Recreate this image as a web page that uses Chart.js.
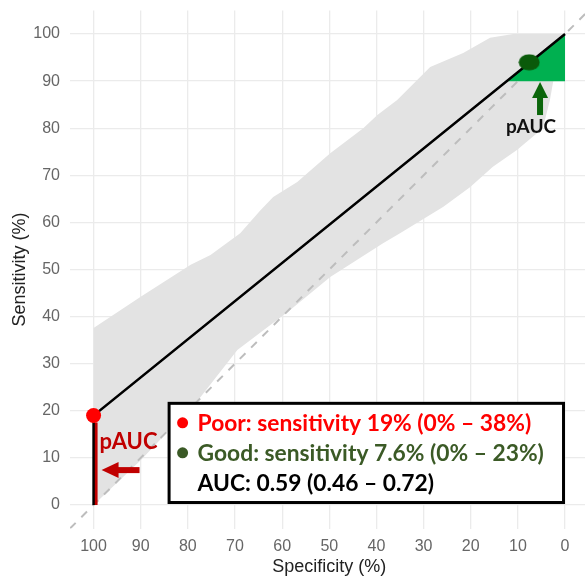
<!DOCTYPE html>
<html><head><meta charset="utf-8">
<script src="https://cdn.jsdelivr.net/npm/chart.js@4"></script>
<style>
html,body{margin:0;padding:0;background:#fff;overflow:hidden;width:585px;height:581px}
#wrap{position:relative;width:590px;height:581px}
</style>
</head><body><div id="wrap"><canvas id="c" width="590" height="581"></canvas></div>
<script>
// ---- data ----
const tickValues = [0,10,20,30,40,50,60,70,80,90,100];
const rocSpec = [100,100,0];
const rocSens = [0,19,100];
const upperSpec = [100,90,79.4,75.2,68.9,64.6,61.9,56.8,49.8,42.8,39.8,35.6,28.6,21.6,15.9,11,0];
const upperSens = [37.6,44.2,51.0,53.1,57.7,62.6,65.4,68.6,74.7,80.0,82.8,86.0,93.0,96.0,99.2,100,100];
const lowerSpec = [100,90,77.3,69.5,58.3,49.8,38.6,35,25.8,20.1,15.3,10.2,4.7,3.2,2.5,0];
const lowerSens = [0,9.5,22.9,32.9,41.4,48.4,55.6,57.7,63.3,67.5,71.8,75.4,80.0,86.0,90,100];
const chanceSpec = [105,-5];
const chanceSens = [-5,105];
const goodPaucSpec = [12.3,0,0];
const goodPaucSens = [90,90,100];
const poorPaucSpec = [100,99.15,99.15,100];
const poorPaucSens = [0,0,17.5,17.5];
const poorPoint = {spec:100, sens:19};
const goodPoint = {spec:7.6, sens:94};
const legendLines = [
  {text:'Poor: sensitivity 19% (0% – 38%)', color:'#ff0000', dot:'#ff0000'},
  {text:'Good: sensitivity 7.6% (0% – 23%)', color:'#3b5a26', dot:'#3b5a26'},
  {text:'AUC: 0.59 (0.46 – 0.72)', color:'#000000', dot:null}
];
const legendBox = {specLeft:84.3, specRight:0, sensTop:21.9, sensBottom:0.2};
const poorArrow = {specFrom:90.25, specTo:98.3, sens:7.4};
const goodArrow = {spec:5.3, sensFrom:82.8, sensTo:89.8};
const poorLabel = {text:'pAUC', spec:92.6, sens:13.4};
const goodLabel = {text:'pAUC', spec:7.2, sens:80.3};

const pts = (xs, ys) => xs.map((x,i)=>({x:x, y:ys[i]}));
const bandPts = pts(upperSpec, upperSens).concat(pts(lowerSpec, lowerSens).reverse());

// ellipse point image for the "good" point
const ell = document.createElement('canvas');
ell.width = 22; ell.height = 17;
(function(){const g=ell.getContext('2d');g.fillStyle='#0a5a0a';g.beginPath();g.ellipse(11,8.5,10.5,8,0,0,Math.PI*2);g.fill();})();

function arrow(ctx, x1, y1, x2, y2, color, shaftW, headLen, headW){
  const ang = Math.atan2(y2-y1, x2-x1);
  const len = Math.hypot(x2-x1, y2-y1);
  ctx.save();
  ctx.translate(x1,y1); ctx.rotate(ang);
  ctx.fillStyle = color;
  ctx.fillRect(0, -shaftW/2, len-headLen+1, shaftW);
  ctx.beginPath();
  ctx.moveTo(len,0); ctx.lineTo(len-headLen, -headW/2); ctx.lineTo(len-headLen, headW/2); ctx.closePath();
  ctx.fill();
  ctx.restore();
}

const annotations = {
  id:'annotations',
  afterDatasetsDraw(chart){
    const ctx = chart.ctx, xs = chart.scales.x, ys = chart.scales.y;
    arrow(ctx, xs.getPixelForValue(poorArrow.specFrom), ys.getPixelForValue(poorArrow.sens),
      xs.getPixelForValue(poorArrow.specTo), ys.getPixelForValue(poorArrow.sens), '#c00000', 6, 17, 16);
    arrow(ctx, xs.getPixelForValue(goodArrow.spec), ys.getPixelForValue(goodArrow.sensFrom),
      xs.getPixelForValue(goodArrow.spec), ys.getPixelForValue(goodArrow.sensTo), '#0b660b', 6, 16, 16);
    ctx.save();
    ctx.textAlign='center'; ctx.textBaseline='middle';
    ctx.font='bold 22px Lato'; ctx.fillStyle='#c00000';
    ctx.fillText(poorLabel.text, xs.getPixelForValue(poorLabel.spec), ys.getPixelForValue(poorLabel.sens));
    ctx.font='bold 19px Lato'; ctx.fillStyle='#111111';
    ctx.fillText(goodLabel.text, xs.getPixelForValue(goodLabel.spec), ys.getPixelForValue(goodLabel.sens));
    const l = xs.getPixelForValue(legendBox.specLeft), r = xs.getPixelForValue(legendBox.specRight);
    const t = ys.getPixelForValue(legendBox.sensTop), b = ys.getPixelForValue(legendBox.sensBottom);
    ctx.fillStyle='#ffffff';
    ctx.fillRect(l,t,r-l,b-t);
    ctx.lineWidth=3; ctx.strokeStyle='#000000';
    ctx.strokeRect(l+1.5,t+1.5,r-l-3,b-t-3);
    ctx.textAlign='left';
    ctx.font='bold 22.8px Lato';
    legendLines.forEach((ln,i)=>{
      const cy = t + 21 + i*30;
      if (ln.dot){ ctx.fillStyle=ln.dot; ctx.beginPath(); ctx.arc(l+15, cy, 5.5, 0, Math.PI*2); ctx.fill(); }
      ctx.fillStyle=ln.color;
      ctx.fillText(ln.text, l+30, cy+1);
    });
    ctx.restore();
  }
};

const noPad = (s)=>{ s.paddingLeft=0; s.paddingRight=0; s.paddingTop=0; s.paddingBottom=0; };

new Chart(document.getElementById('c'), {
  type:'scatter',
  data:{datasets:[
    {data:bandPts, showLine:true, fill:'shape', backgroundColor:'#e3e3e3', borderWidth:0, pointRadius:0, order:10},
    {data:pts(chanceSpec, chanceSens), showLine:true, borderColor:'#bdbdbd', borderWidth:2, borderDash:[8,8], pointRadius:0, order:9},
    {data:pts(goodPaucSpec, goodPaucSens), showLine:true, fill:'shape', backgroundColor:'#00b050', borderWidth:0, pointRadius:0, order:8},
    {data:pts(poorPaucSpec, poorPaucSens), showLine:true, fill:'shape', backgroundColor:'#c00000', borderWidth:0, pointRadius:0, order:7},
    {data:pts(rocSpec, rocSens), showLine:true, borderColor:'#000000', borderWidth:2.5, pointRadius:0, order:6},
    {data:[{x:poorPoint.spec, y:poorPoint.sens}], pointRadius:7.5, pointBackgroundColor:'#ff0000', pointBorderWidth:0, order:2},
    {data:[{x:goodPoint.spec, y:goodPoint.sens}], pointStyle:ell, pointRadius:9, order:1}
  ]},
  options:{
    responsive:false, animation:false,
    layout:{autoPadding:false, padding:{left:9.2, top:10.5, right:1.4, bottom:3.2}},
    plugins:{legend:{display:false}, tooltip:{enabled:false}},
    scales:{
      x:{type:'linear', reverse:true, min:-5, max:105,
        afterBuildTicks:(s)=>{s.ticks = tickValues.map(v=>({value:v}));},
        afterFit:noPad,
        grid:{color:'#ebebeb', lineWidth:1.3, drawTicks:false},
        border:{display:false},
        ticks:{padding:8, color:'#666666', font:{family:'Liberation Sans', size:16}},
        title:{display:true, text:'Specificity (%)', color:'#222222', padding:{top:-7.5,bottom:0}, font:{family:'Liberation Sans', size:18}}
      },
      y:{type:'linear', min:-5, max:105,
        afterBuildTicks:(s)=>{s.ticks = tickValues.map(v=>({value:v}));},
        afterFit:noPad,
        grid:{color:'#ebebeb', lineWidth:1.3, drawTicks:false},
        border:{display:false},
        ticks:{padding:10, color:'#666666', font:{family:'Liberation Sans', size:16}},
        title:{display:true, text:'Sensitivity (%)', color:'#222222', padding:{top:0,bottom:-7.5}, font:{family:'Liberation Sans', size:18}}
      }
    }
  },
  plugins:[annotations]
});
</script>
</body></html>
